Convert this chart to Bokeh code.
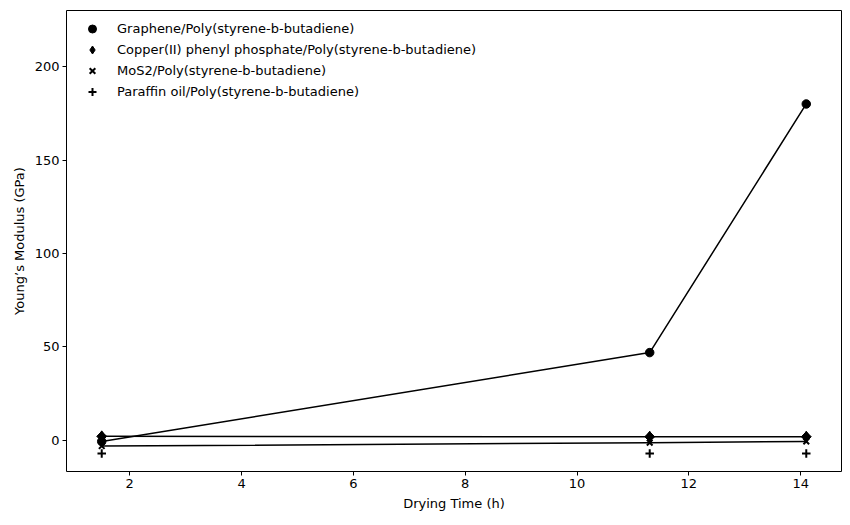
import math
from bokeh.plotting import figure
from bokeh.models import Range1d, Legend, LegendItem, FixedTicker, ColumnDataSource
from bokeh.embed import file_html
from bokeh.resources import INLINE

drying_time = [1.5, 11.3, 14.1]
graphene = [-0.5, 47.0, 180.0]
copper = [2.2, 2.0, 2.0]
mos2 = [-3.0, -1.2, -0.5]
paraffin = [-7.0, -7.0, -7.0]

names = [
    "Graphene/Poly(styrene-b-butadiene)",
    "Copper(II) phenyl phosphate/Poly(styrene-b-butadiene)",
    "MoS2/Poly(styrene-b-butadiene)",
    "Paraffin oil/Poly(styrene-b-butadiene)",
]
x_ticks = [2, 4, 6, 8, 10, 12, 14]
y_ticks = [0, 50, 100, 150, 200]

FONT = "DejaVu Sans"

p = figure(width=850, height=525, output_backend="svg", toolbar_location=None,
           x_range=Range1d(0.87, 14.73), y_range=Range1d(-16.6, 230),
           min_border_left=66, min_border_right=9, min_border_top=10, min_border_bottom=54)
p.xgrid.visible = False
p.ygrid.visible = False
p.outline_line_color = "black"
p.outline_line_width = 1
p.background_fill_color = "white"
p.border_fill_color = "white"

for ax, ticks, label in [(p.xaxis[0], x_ticks, "Drying Time (h)"), (p.yaxis[0], y_ticks, "Young’s Modulus (GPa)")]:
    ax.ticker = FixedTicker(ticks=ticks)
    ax.axis_label = label
    ax.axis_label_text_font = FONT
    ax.axis_label_text_font_style = "normal"
    ax.axis_label_text_font_size = "13px"
    ax.axis_label_text_color = "black"
    ax.major_label_text_font = FONT
    ax.major_label_text_font_size = "13px"
    ax.major_label_text_color = "black"
    ax.axis_line_color = None
    ax.major_tick_line_color = "black"
    ax.major_tick_out = 4
    ax.major_tick_in = 0
    ax.minor_tick_line_color = None
    ax.major_label_standoff = 3
    ax.axis_label_standoff = 5

p.line(drying_time, graphene, line_color="black", line_width=1.5)
p.line(drying_time, copper, line_color="black", line_width=1.5)
p.line(drying_time, mos2, line_color="black", line_width=1.5)

copper_src = ColumnDataSource(dict(x=drying_time, y=copper, ang=[math.pi / 4] * len(copper)))

r1 = p.scatter(drying_time, graphene, marker="circle", size=8.5, fill_color="black", line_color="black")
r2 = p.scatter("x", "y", source=copper_src, marker="diamond", size=11, fill_color="black", line_color="black")
p.scatter("x", "y", source=copper_src, marker="square", angle="ang", size=7, fill_color="black", line_color="black")
r3 = p.scatter(drying_time, mos2, marker="x", size=8, line_color="black", line_width=2)
r4 = p.scatter(drying_time, paraffin, marker="cross", size=8.5, line_color="black", line_width=2)

legend = Legend(items=[LegendItem(label=n, renderers=[r]) for n, r in zip(names, [r1, r2, r3, r4])],
                location=(16, 369), margin=0, padding=6, spacing=0,
                glyph_width=20, glyph_height=21, label_standoff=15,
                label_text_font=FONT, label_text_font_size="13px", label_text_color="black",
                background_fill_alpha=0, border_line_color=None)
p.add_layout(legend)

open("out.html", "w").write(file_html(p, INLINE))
